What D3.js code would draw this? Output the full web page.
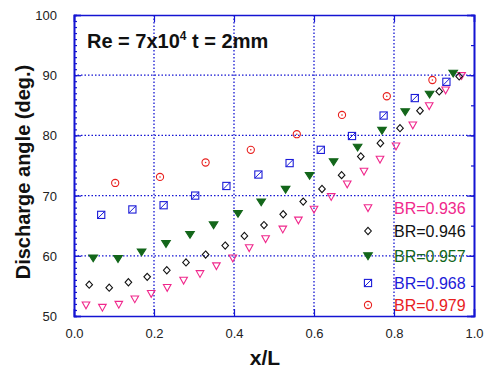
<!DOCTYPE html>
<html>
<head>
<meta charset="utf-8">
<script src="https://cdn.jsdelivr.net/npm/d3@7"></script>
<style>
  body { margin: 0; background: #fff; }
  text { font-family: Arial, "Liberation Sans", sans-serif; }
</style>
</head>
<body>
<div id="chart"></div>
<script>
(function(d3) {
  'use strict';

  // data
  var x936 = [0.030,0.071,0.112,0.152,0.193,0.233,0.274,0.315,0.356,0.397,0.438,0.479,0.522,0.561,0.600,0.643,0.683,0.725,0.765,0.805,0.847,0.888,0.929,0.969];
  var y936 = [51.8,51.4,51.9,52.8,53.7,54.7,55.9,57.0,58.3,59.6,61.3,62.8,64.4,65.9,67.7,69.8,71.9,74.0,76.0,78.2,81.7,84.9,87.5,89.9];
  var x946 = [0.038,0.088,0.136,0.183,0.232,0.280,0.329,0.378,0.426,0.475,0.523,0.573,0.620,0.669,0.717,0.766,0.815,0.865,0.913,0.963];
  var y946 = [55.2,54.7,55.6,56.5,57.6,58.9,60.2,61.7,63.3,65.1,66.9,69.0,71.1,73.4,76.5,78.7,81.2,84.1,87.3,89.8];
  var x957 = [0.048,0.110,0.169,0.230,0.290,0.349,0.410,0.468,0.529,0.589,0.649,0.709,0.770,0.828,0.889,0.948];
  var y957 = [59.6,59.5,60.6,62.0,63.5,65.1,67.0,68.9,71.0,73.3,75.6,78.0,80.8,83.9,86.8,90.3];
  var x968 = [0.068,0.146,0.224,0.303,0.381,0.461,0.539,0.617,0.695,0.774,0.852,0.931];
  var y968 = [66.8,67.7,68.4,70.0,71.6,73.5,75.4,77.6,79.9,83.3,86.2,88.9];
  var x979 = [0.103,0.215,0.329,0.442,0.557,0.670,0.782,0.896];
  var y979 = [72.1,73.1,75.5,77.6,80.2,83.4,86.5,89.2];

  var seriesNames = ['BR=0.936','BR=0.946','BR=0.957','BR=0.968','BR=0.979'];
  var xTicks = [0.0,0.2,0.4,0.6,0.8,1.0];
  var yTicks = [50,60,70,80,90,100];

  var width = 486, height = 370;
  var left = 74, right = 474, top = 15, bottom = 316;
  var axisColor = '#1414d2';

  var series = [
    {name: seriesNames[0], xs: x936, ys: y936, color: '#f0288c', shape: 'tri'},
    {name: seriesNames[1], xs: x946, ys: y946, color: '#111111', shape: 'diamond'},
    {name: seriesNames[2], xs: x957, ys: y957, color: '#13661a', shape: 'trifill'},
    {name: seriesNames[3], xs: x968, ys: y968, color: '#1c1cd8', shape: 'square'},
    {name: seriesNames[4], xs: x979, ys: y979, color: '#e8201e', shape: 'circle'}
  ];

  var x = d3.scaleLinear().domain([0, 1]).range([left, right]);
  var y = d3.scaleLinear().domain([50, 100]).range([bottom, top]);

  var svg = d3.select('#chart').append('svg')
    .attr('width', width)
    .attr('height', height);

  // dotted grid
  svg.append('g').selectAll('line')
    .data(xTicks.slice(1, -1))
    .enter().append('line')
    .attr('x1', function(d) { return x(d); }).attr('x2', function(d) { return x(d); })
    .attr('y1', top).attr('y2', bottom)
    .attr('stroke', axisColor).attr('stroke-width', 1.3)
    .attr('stroke-dasharray', '1.5,2');
  svg.append('g').selectAll('line')
    .data(yTicks.slice(1, -1))
    .enter().append('line')
    .attr('y1', function(d) { return y(d); }).attr('y2', function(d) { return y(d); })
    .attr('x1', left).attr('x2', right)
    .attr('stroke', axisColor).attr('stroke-width', 1.3)
    .attr('stroke-dasharray', '1.5,2');

  // axes, ticks pointing inwards
  var yMinor = d3.range(50, 101, 1);
  var gl = svg.append('g').attr('transform', 'translate(' + left + ',0)')
    .call(d3.axisLeft(y).tickValues(yMinor).tickSize(-3).tickFormat(''));
  gl.append('g').call(d3.axisLeft(y).tickValues(yTicks).tickSize(-7).tickPadding(17)
    .tickFormat(d3.format('d')));

  var gb = svg.append('g').attr('transform', 'translate(0,' + bottom + ')')
    .call(d3.axisBottom(x).tickValues(xTicks).tickSize(-7).tickPadding(13)
      .tickFormat(d3.format('.1f')));

  var gr = svg.append('g').attr('transform', 'translate(' + right + ',0)')
    .call(d3.axisRight(y).tickValues(d3.range(50, 101, 5)).tickSize(-3).tickFormat(''));
  gr.append('g').call(d3.axisRight(y).tickValues(yTicks).tickSize(-7).tickFormat(''));

  var gt = svg.append('g').attr('transform', 'translate(0,' + top + ')')
    .call(d3.axisTop(x).tickValues(xTicks).tickSize(-7).tickFormat(''));

  svg.selectAll('.domain').attr('stroke', axisColor).attr('stroke-width', 1.6);
  svg.selectAll('.tick line').attr('stroke', axisColor).attr('stroke-width', 1.2);
  svg.selectAll('.tick text')
    .attr('fill', '#222')
    .style('font-size', '13px')
    .style('font-family', 'Arial, "Liberation Sans", sans-serif');
  gl.selectAll('.tick text').attr('dy', '0.35em');

  // marker drawing
  function drawMarker(g, shape, color) {
    if (shape === 'tri' || shape === 'trifill') {
      var w = shape === 'tri' ? 3.8 : 4.3;
      g.append('path')
        .attr('d', 'M' + (-w) + ',-3.2L' + w + ',-3.2L0,3.6Z')
        .attr('fill', shape === 'tri' ? 'none' : color)
        .attr('stroke', color).attr('stroke-width', 1.1);
    } else if (shape === 'diamond') {
      g.append('path')
        .attr('d', 'M0,-3.6L3.3,0L0,3.6L-3.3,0Z')
        .attr('fill', 'none').attr('stroke', color).attr('stroke-width', 1.1);
    } else if (shape === 'square') {
      g.append('rect')
        .attr('x', -3.6).attr('y', -3.6).attr('width', 7.2).attr('height', 7.2)
        .attr('fill', 'none').attr('stroke', color).attr('stroke-width', 1.1);
      g.append('line')
        .attr('x1', -3.6).attr('y1', 3.6).attr('x2', 3.6).attr('y2', -3.6)
        .attr('stroke', color).attr('stroke-width', 1);
    } else if (shape === 'circle') {
      g.append('circle').attr('r', 3.6)
        .attr('fill', 'none').attr('stroke', color).attr('stroke-width', 1.1);
      g.append('circle').attr('r', 0.8).attr('fill', color);
    }
  }

  series.forEach(function(s) {
    var pts = s.xs.map(function(v, i) { return [v, s.ys[i]]; });
    svg.append('g').selectAll('g')
      .data(pts)
      .enter().append('g')
      .attr('transform', function(d) { return 'translate(' + x(d[0]) + ',' + y(d[1]) + ')'; })
      .each(function() { drawMarker(d3.select(this), s.shape, s.color); });
  });

  // legend
  var legendY = [208, 231, 256, 283, 305];
  var legend = svg.append('g').selectAll('g')
    .data(series)
    .enter().append('g')
    .attr('transform', function(d, i) { return 'translate(368,' + legendY[i] + ')'; });
  legend.each(function(d) { drawMarker(d3.select(this), d.shape, d.color); });
  legend.append('text')
    .attr('x', 26).attr('y', 6)
    .style('font-size', '16px')
    .attr('fill', function(d) { return d.color; })
    .text(function(d) { return d.name; });

  // title inside plot
  var title = svg.append('text')
    .attr('x', 87).attr('y', 48)
    .style('font-size', '20px').style('font-weight', 'bold')
    .attr('fill', '#111');
  title.append('tspan').text('Re = 7x10');
  title.append('tspan').attr('dy', -8).style('font-size', '12px').text('4');
  title.append('tspan').attr('dy', 8).text(' t = 2mm');

  // axis titles
  svg.append('text')
    .attr('x', (left + right) / 2 - 9).attr('y', 365)
    .attr('text-anchor', 'middle')
    .style('font-size', '21px').style('font-weight', 'bold')
    .attr('fill', '#111')
    .text('x/L');

  svg.append('text')
    .attr('transform', 'translate(30,' + 172 + ') rotate(-90)')
    .attr('text-anchor', 'middle')
    .style('font-size', '20px').style('font-weight', 'bold')
    .attr('fill', '#111')
    .text('Discharge angle (deg.)');

})(window.d3);
</script>
</body>
</html>
